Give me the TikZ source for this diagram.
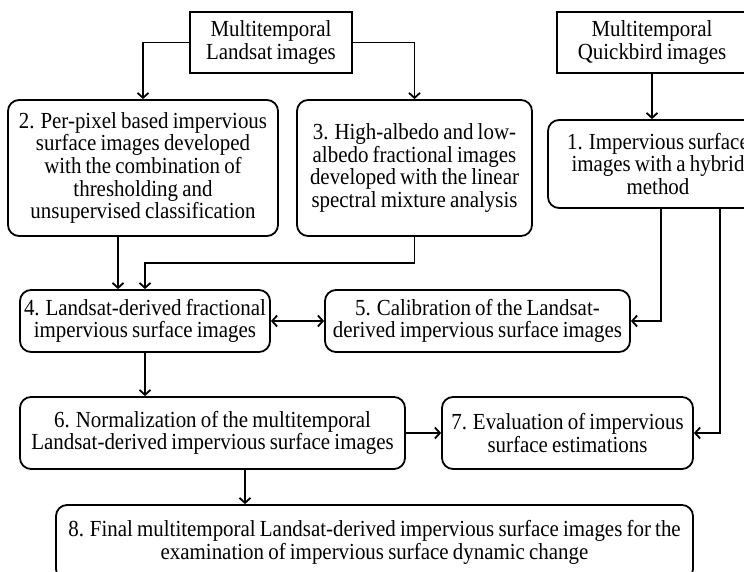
\documentclass[tikz,border=0pt]{standalone}
\usepackage{fontspec}
\setmainfont{Liberation Serif}[FakeStretch=0.91, WordSpace=0.8]
\usetikzlibrary{calc}
\usetikzlibrary{arrows.meta}
\tikzset{
  every picture/.style={
    line width=1.8pt,
    >={Straight Barb[length=5pt, width=11pt]}
  },
  src/.style={
    draw, rectangle, align=center, inner sep=0pt,
    font=\fontsize{23}{22.6}\selectfont
  },
  stepbox/.style={
    src, rounded corners=11pt
  }
}
\begin{document}
\begin{tikzpicture}[x=1pt, y=1pt]
  \useasboundingbox (0,0) rectangle (744,-571);
  \clip (0,0) rectangle (744,-571);
  \node[src, minimum width=162pt, minimum height=61pt] (L) at (271,-42.5) {Multitemporal\\Landsat images};
  \node[src, minimum width=190pt, minimum height=61pt] (Q) at (652,-42.5) {Multitemporal\\Quickbird images};
  \node[stepbox, minimum width=220pt, minimum height=88pt] (I) at (658,-164) {1. Impervious surface\\images with a hybrid\\method};
  \node[stepbox, minimum width=270pt, minimum height=136pt] (P) at (143,-168) {2. Per-pixel based impervious\\surface images developed\\with the combination of\\thresholding and\\unsupervised classification};
  \node[stepbox, minimum width=235pt, minimum height=136pt] (A) at (414.5,-168) {3. High-albedo and low-\\albedo fractional images\\developed with the linear\\spectral mixture analysis};
  \node[stepbox, minimum width=250pt, minimum height=62pt] (F) at (145,-321) {4. Landsat-derived fractional\\impervious surface images};
  \node[stepbox, minimum width=305pt, minimum height=62pt] (C) at (477.5,-321) {5. Calibration of the Landsat-\\derived impervious surface images};
  \node[stepbox, minimum width=385pt, minimum height=72pt] (N) at (212.5,-433) {6. Normalization of the multitemporal\\Landsat-derived impervious surface images};
  \node[stepbox, minimum width=251pt, minimum height=72pt] (E) at (567.5,-433) {7. Evaluation of impervious\\surface estimations};
  \node[stepbox, minimum width=637pt, minimum height=75pt] (R) at (374.5,-542.5) {8. Final multitemporal Landsat-derived impervious surface images for the\\examination of impervious surface dynamic change};
  \draw[->] (L.west) -| (P.north);
  \draw[->] (L.east) -| (A.north);
  \draw[->] (Q.south) -- (Q.south |- I.north);
  \draw[->] ([xshift=-25pt]P.south) -- ([xshift=-25pt]P.south |- F.north);
  \draw[->] (A.south) -- ++(0,-26) coordinate (bend) -| (F.north);
  \draw[<->] (F.east) -- (C.west);
  \draw[->] ([xshift=3pt]I.south) |- (C.east);
  \draw[->] ([xshift=62pt]I.south) |- (E.east);
  \draw[->] (F.south) -- (F.south |- N.north);
  \draw[->] (N.east) -- (E.west);
  \draw[->] ([xshift=32.5pt]N.south) -- ([xshift=32.5pt]N.south |- R.north);
\end{tikzpicture}
\end{document}
